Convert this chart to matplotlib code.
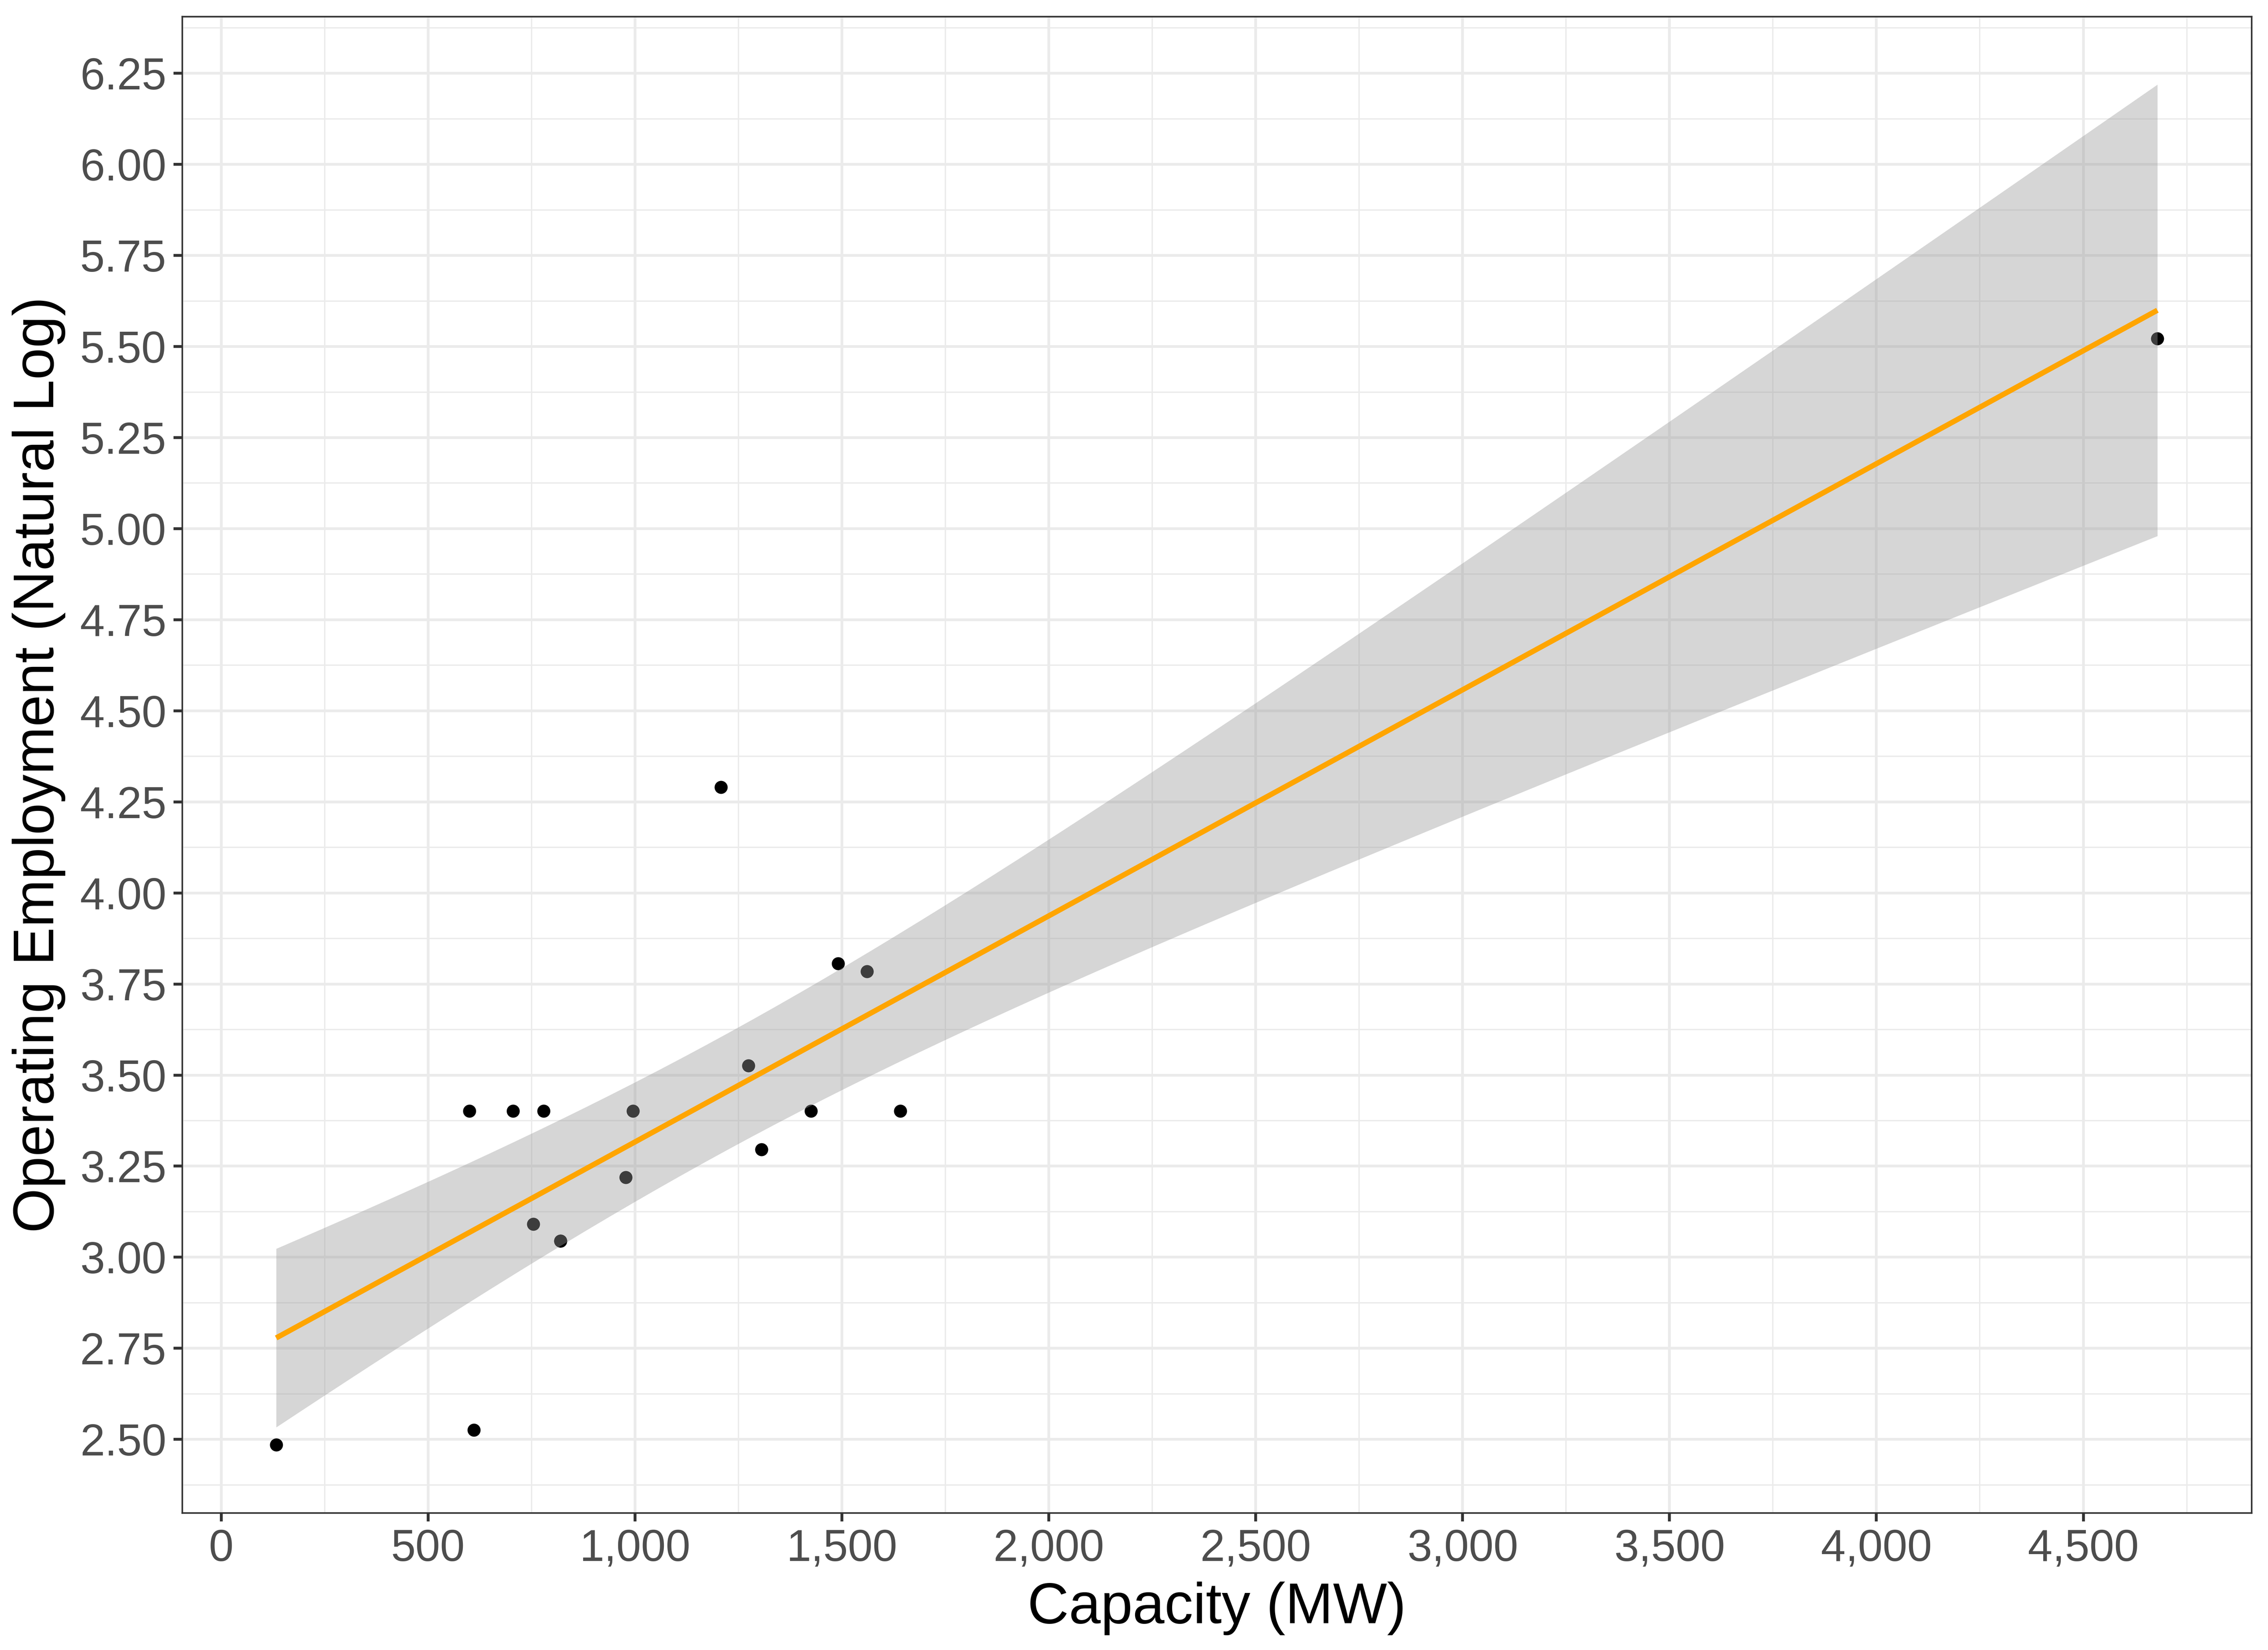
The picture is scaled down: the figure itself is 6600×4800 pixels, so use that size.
import numpy as np
import matplotlib
matplotlib.use("Agg")
import matplotlib.pyplot as plt
from matplotlib.ticker import MultipleLocator, FuncFormatter

plt.rcParams['font.family'] = ['Liberation Sans', 'DejaVu Sans']

# Data (two plants share the point at 820 MW / 21 jobs)
capacity_mw = [133, 611, 600, 705, 779, 754, 820, 820, 978, 995, 1208, 1274, 1306, 1425, 1491, 1561, 1641, 4679]
employment = [12, 12.5, 30, 30, 30, 22, 21, 21, 25, 30, 73, 34, 27, 30, 45, 44, 30, 250]
x_label = "Capacity (MW)"
y_label = "Operating Employment (Natural Log)"

x = np.array(capacity_mw, dtype=float)
y = np.log(np.array(employment, dtype=float))


def t_quantile(p, df):
    # numeric inverse of Student t CDF (no scipy available)
    grid = np.linspace(0, 20, 200001)
    pdf = (1 + grid ** 2 / df) ** (-(df + 1) / 2)
    cdf = np.concatenate([[0], np.cumsum((pdf[1:] + pdf[:-1]) / 2 * np.diff(grid))])
    cdf = 0.5 + 0.5 * cdf / cdf[-1]
    return float(np.interp(p, cdf, grid))


# Linear fit with 95% confidence band (like geom_smooth(method="lm"))
n = len(x)
b1, b0 = np.polyfit(x, y, 1)
resid = y - (b0 + b1 * x)
s = np.sqrt(np.sum(resid ** 2) / (n - 2))
t_crit = t_quantile(0.975, n - 2)
xg = np.linspace(x.min(), x.max(), 80)
yg = b0 + b1 * xg
se = s * np.sqrt(1.0 / n + (xg - x.mean()) ** 2 / np.sum((x - x.mean()) ** 2))
lo = yg - t_crit * se
hi = yg + t_crit * se

fig = plt.figure(figsize=(22, 16), dpi=300)
ax = fig.add_axes([0.0803, 0.0831, 0.9927 - 0.0803, 0.990 - 0.0831])

ax.scatter(x, y, s=83, color='black', zorder=2, linewidths=0)
ax.fill_between(xg, lo, hi, color='#999999', alpha=0.4, linewidth=0, zorder=3)
ax.plot(xg, yg, color='#FFA500', lw=3.7, zorder=4, solid_capstyle='butt')

xr = x.max() - x.min()
ax.set_xlim(x.min() - 0.05 * xr, x.max() + 0.05 * xr)
ymin = min(y.min(), lo.min()); ymax = max(y.max(), hi.max())
yr = ymax - ymin
ax.set_ylim(ymin - 0.05 * yr, ymax + 0.05 * yr)

ax.xaxis.set_major_locator(MultipleLocator(500))
ax.xaxis.set_minor_locator(MultipleLocator(250))
ax.yaxis.set_major_locator(MultipleLocator(0.25))
ax.yaxis.set_minor_locator(MultipleLocator(0.125))
ax.xaxis.set_major_formatter(FuncFormatter(lambda v, p: f"{int(round(v)):,}"))
ax.yaxis.set_major_formatter(FuncFormatter(lambda v, p: f"{v:.2f}"))

ax.set_axisbelow(True)
ax.grid(which='major', color='#ebebeb', lw=1.9, zorder=0)
ax.grid(which='minor', color='#ebebeb', lw=0.95, zorder=0)
ax.tick_params(which='minor', length=0)
ax.tick_params(which='major', length=6, width=2.0, color='#333333',
               labelsize=31, labelcolor='#4d4d4d', pad=5)
for sp in ax.spines.values():
    sp.set_color('#333333')
    sp.set_linewidth(1.1)

ax.set_xlabel(x_label, fontsize=40, labelpad=8)
ax.set_ylabel(y_label, fontsize=40, labelpad=10)

fig.savefig("out.png", dpi=300)
